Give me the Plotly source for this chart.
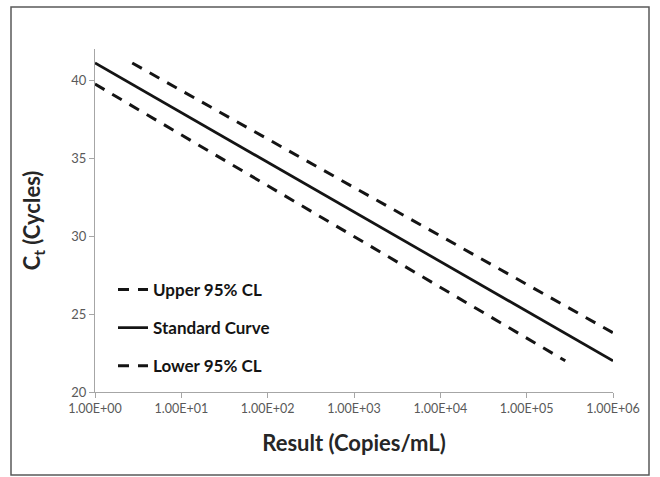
import plotly.graph_objects as go

# ---- data ----
x_standard = [1, 1e6]
ct_standard = [41.1, 22.0]

x_upper = [2.7, 1e6]
ct_upper = [41.1, 23.8]

x_lower = [1, 2.8e5]
ct_lower = [39.75, 22.0]

x_tickvals = [1, 10, 100, 1000, 1e4, 1e5, 1e6]
x_ticktext = ["1.00E+00", "1.00E+01", "1.00E+02", "1.00E+03",
              "1.00E+04", "1.00E+05", "1.00E+06"]
y_tickvals = [20, 25, 30, 35, 40]

# ---- layout geometry (pixels) ----
W, H = 660, 477
L, R, T, B = 95, 47, 49, 85
pw, ph = W - L - R, H - T - B

def px_x(px):
    return (px - L) / pw

def px_y(py):
    return (H - B - py) / ph

FONT = "Lato, 'Open Sans', sans-serif"
line_col = "#141414"

fig = go.Figure()
fig.add_trace(go.Scatter(x=x_upper, y=ct_upper, mode="lines", name="Upper 95% CL",
                         legendgroup="u",
                         line=dict(color=line_col, width=3, dash="11px,9px")))
fig.add_trace(go.Scatter(x=x_standard, y=ct_standard, mode="lines", name="Standard Curve",
                         legendgroup="s",
                         line=dict(color=line_col, width=2.75)))
fig.add_trace(go.Scatter(x=x_lower, y=ct_lower, mode="lines", name="Lower 95% CL",
                         legendgroup="l",
                         line=dict(color=line_col, width=3, dash="11px,9px")))

fig.update_layout(
    width=W, height=H,
    margin=dict(l=L, r=R, t=T, b=B),
    paper_bgcolor="white", plot_bgcolor="white",
    font=dict(family=FONT, color="#595959", size=12),
    showlegend=True,
    legend=dict(
        x=px_x(113), y=px_y(272), xanchor="left", yanchor="top",
        font=dict(family=FONT, size=17, color="#141414", weight="bold"),
        tracegroupgap=13, traceorder="grouped",
        bgcolor="rgba(0,0,0,0)", itemwidth=30,
    ),
    xaxis=dict(
        type="log", range=[0, 6],
        tickvals=x_tickvals, ticktext=x_ticktext,
        showline=True, linecolor="#a6a6a6", linewidth=1,
        ticks="outside", ticklen=5, tickcolor="#a6a6a6",
        showgrid=False, zeroline=False,
        tickfont=dict(family=FONT, size=12.5, color="#595959"),
        title=dict(text="Result (Copies/mL)", standoff=20,
                   font=dict(family=FONT, size=22, color="#262626", weight="bold")),
    ),
    yaxis=dict(
        range=[20, 42],
        tickvals=y_tickvals,
        showline=True, linecolor="#a6a6a6", linewidth=1,
        ticks="outside", ticklen=5, tickcolor="#a6a6a6",
        showgrid=False, zeroline=False,
        tickfont=dict(family=FONT, size=13, color="#595959"),
        title=dict(text="C<sub>t</sub> (Cycles)", standoff=24,
                   font=dict(family=FONT, size=22, color="#262626", weight="bold")),
    ),
    shapes=[dict(type="rect", xref="paper", yref="paper",
                 x0=px_x(11), x1=px_x(649), y0=px_y(475), y1=px_y(7),
                 line=dict(color="#595959", width=1.5), fillcolor="rgba(0,0,0,0)",
                 layer="below")],
)

fig.write_html("out.html",
               config={"displayModeBar": False},
               post_script="document.body.style.margin='0';document.body.style.padding='0';")
